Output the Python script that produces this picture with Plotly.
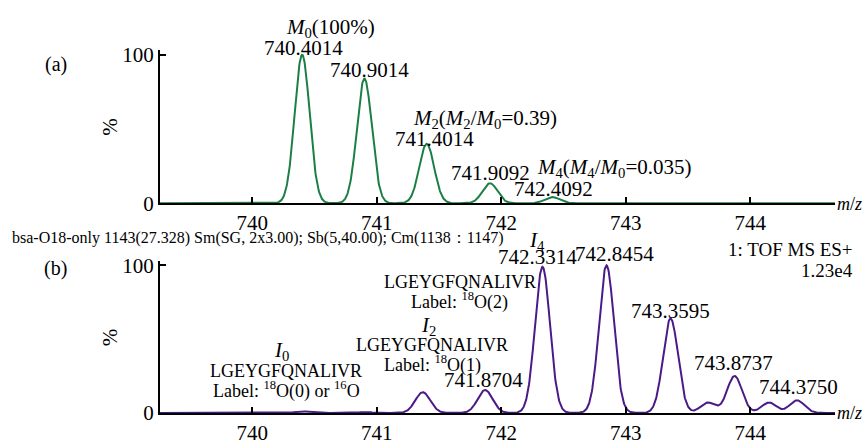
import numpy as np
import plotly.graph_objects as go

# ---- data (peak centroids / relative intensities) ----
top_centers = [740.4014, 740.9014, 741.4014, 741.9092, 742.4092]
top_heights = [100, 84, 40, 13.5, 4.2]

bot_centers = [740.40, 740.90, 741.37, 741.8704, 742.3314, 742.8454, 743.3595,
               743.66, 743.8737, 744.15, 744.3750]
bot_heights = [1.0, 0.6, 14, 15.5, 99, 100, 64, 7, 25, 7, 8.5]

tick_vals = [740, 741, 742, 743, 744]
tick_text = ["740", "741", "742", "743", "744"]

SIGMA = 0.06
X0, X1 = 739.26, 744.68

def spectrum(centers, heights, sigma=SIGMA):
    x = np.linspace(X0, X1, 1600)
    y = np.zeros_like(x)
    for c, h in zip(centers, heights):
        y += h * np.exp(-0.5 * ((x - c) / sigma) ** 2)
    return x, y

xt, yt = spectrum(top_centers, top_heights)
xb, yb = spectrum(bot_centers, bot_heights)

W, H = 867, 445
def px(x):
    return x / W
def py(y):
    return 1 - y / H

GREEN = "#1b7f45"
PURPLE = "#4a1a86"
SERIF = "Liberation Serif, Times New Roman, serif"

fig = go.Figure()
fig.add_trace(go.Scatter(x=xt, y=yt, mode="lines", line=dict(color=GREEN, width=2),
                         xaxis="x", yaxis="y", hoverinfo="skip", showlegend=False))
fig.add_trace(go.Scatter(x=xb, y=yb, mode="lines", line=dict(color=PURPLE, width=2),
                         xaxis="x2", yaxis="y2", hoverinfo="skip", showlegend=False))

xdom = [px(160), px(835)]
ax_common = dict(showline=True, linecolor="black", linewidth=2, ticks="inside",
                 ticklen=6, tickwidth=2, tickcolor="black", showgrid=False,
                 zeroline=False, tickfont=dict(family=SERIF, size=21, color="black"))
yr = [0, 103.2]
fig.update_layout(
    width=W, height=H, margin=dict(l=0, r=0, t=0, b=0),
    paper_bgcolor="white", plot_bgcolor="white",
    xaxis=dict(domain=xdom, range=[X0, X1], anchor="y", tickvals=tick_vals,
               ticktext=tick_text, **ax_common),
    yaxis=dict(domain=[py(205), py(45)], range=yr, anchor="x", tickvals=[0, 100],
               ticktext=["0", "100"], **ax_common),
    xaxis2=dict(domain=xdom, range=[X0, X1], anchor="y2", tickvals=tick_vals,
                ticktext=tick_text, **ax_common),
    yaxis2=dict(domain=[py(424), py(265)], range=yr, anchor="x2", tickvals=[0, 100],
                ticktext=["0", "100"], **ax_common),
)

def ann(x, y, text, size=20, xanchor="center", angle=0, family=SERIF):
    fig.add_annotation(x=px(x), y=py(y), xref="paper", yref="paper", text=text,
                       showarrow=False, xanchor=xanchor, yanchor="middle",
                       textangle=angle, font=dict(family=family, size=size, color="black"))

NUM = 21
LAB = 18
# panel (a)
ann(56, 60, "(a)", 20)
ann(110, 125, "%", 21, angle=-90)
ann(849, 206, "<i>m</i>/<i>z</i>", 18)
ann(330, 22, "<i>M</i><sub>0</sub>(100%)", NUM)
ann(303, 43, "740.4014", NUM)
ann(369, 66, "740.9014", NUM)
ann(485, 117, "<i>M</i><sub>2</sub>(<i>M</i><sub>2</sub>/<i>M</i><sub>0</sub>=0.39)", NUM)
ann(434, 138, "741.4014", NUM)
ann(490, 173, "741.9092", NUM)
ann(614, 168, "<i>M</i><sub>4</sub>(<i>M</i><sub>4</sub>/<i>M</i><sub>0</sub>=0.035)", NUM)
ann(553, 190, "742.4092", NUM)

# panel (b)
ann(10, 241, "bsa-O18-only 1143(27.328) Sm(SG, 2x3.00); Sb(5,40.00); Cm(1138：1147)",
    16, xanchor="left")
ann(56, 273, "(b)", 20)
ann(110, 345, "%", 21, angle=-90)
ann(849, 424, "<i>m</i>/<i>z</i>", 18)
ann(855, 253, "1: TOF MS ES+", 19, xanchor="right")
ann(855, 275, "1.23e4", 19, xanchor="right")
ann(537, 244, "<i>I</i><sub>4</sub>", NUM)
ann(537, 261, "742.3314", NUM)
ann(614, 258, "742.8454", NUM)
ann(460, 287, "LGEYGFQNALIVR", LAB)
ann(460, 307, "Label: <sup>18</sup>O(2)", LAB)
ann(428, 333, "<i>I</i><sub>2</sub>", NUM)
ann(432, 353, "LGEYGFQNALIVR", LAB)
ann(432, 373, "Label: <sup>18</sup>O(1)", LAB)
ann(483, 390, "741.8704", NUM)
ann(670, 318, "743.3595", NUM)
ann(733, 372, "743.8737", NUM)
ann(798, 397, "744.3750", NUM)
ann(281, 359, "<i>I</i><sub>0</sub>", NUM)
ann(286, 380, "LGEYGFQNALIVR", LAB)
ann(286, 400, "Label: <sup>18</sup>O(0) or <sup>16</sup>O", LAB)

fig.write_html("out.html", config={"displayModeBar": False},
               post_script="document.body.style.margin='0';")
